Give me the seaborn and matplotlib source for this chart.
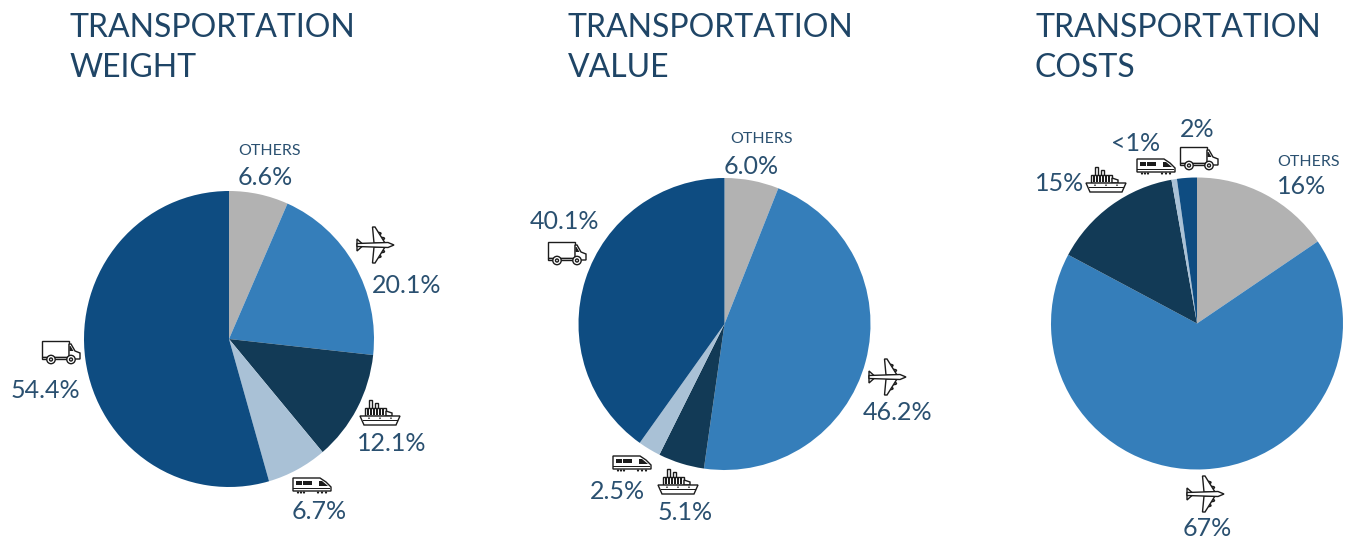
import matplotlib
matplotlib.use("Agg")
import matplotlib.pyplot as plt
import seaborn as sns
from matplotlib.patches import Polygon, Circle, Rectangle, Ellipse
from matplotlib.transforms import Affine2D

sns.set_theme(style="white")
plt.rcParams['font.family'] = ['Lato', 'DejaVu Sans']

titles = ["TRANSPORTATION\nWEIGHT", "TRANSPORTATION\nVALUE", "TRANSPORTATION\nCOSTS"]
modes = ["Others", "Air", "Water", "Rail", "Truck"]
weight_values = [6.6, 20.1, 12.1, 6.7, 54.4]
value_values = [6.0, 46.2, 5.1, 2.5, 40.1]
cost_values = [15.5, 67.3, 14.4, 0.6, 2.2]
weight_labels = ["6.6%", "20.1%", "12.1%", "6.7%", "54.4%"]
value_labels = ["6.0%", "46.2%", "5.1%", "2.5%", "40.1%"]
cost_labels = ["16%", "67%", "15%", "<1%", "2%"]
others_label = "OTHERS"

palette = sns.color_palette(["#B2B2B2", "#357EBA", "#123A56", "#A9C1D6", "#0E4C81"])
TXT = "#2A5070"
INK = "#1c1c1c"
W, H = 1352, 540

fig = plt.figure(figsize=(W / 100, H / 100), dpi=100, facecolor="white")

pies = [(weight_values, 229, 339, 145, 148), (value_values, 724.5, 324, 146, 146), (cost_values, 1197, 323.5, 146, 146)]
for vals, cx, cy, rx, ry in pies:
    ax = fig.add_axes([(cx - rx) / W, 1 - (cy + ry) / H, 2 * rx / W, 2 * ry / H])
    ax.pie(vals, colors=palette, startangle=90, counterclock=False, radius=1,
           wedgeprops=dict(linewidth=0))
    ax.set_aspect("auto")
    ax.set_xlim(-1, 1)
    ax.set_ylim(-1, 1)
    ax.axis("off")

ov = fig.add_axes([0, 0, 1, 1], facecolor="none")
ov.set_xlim(0, W)
ov.set_ylim(H, 0)
ov.axis("off")


def place(x, y):
    return Affine2D().translate(x, y) + ov.transData


def truck(x, y):
    t = place(x, y)
    kw = dict(transform=t, ec=INK, lw=1.0, fc="white")
    ov.add_patch(Rectangle((0, 0), 27, 16, **kw))
    ov.add_patch(Polygon([(27, 3), (29, 3), (33, 10), (38, 12), (38, 18), (27, 18)], **kw))
    ov.add_patch(Polygon([(27.5, 5), (28.5, 5), (31.5, 10), (27.5, 10)], transform=t, fc=INK, ec="none"))
    ov.add_patch(Rectangle((0, 16), 27, 2, **kw))
    for wx in (9, 29):
        ov.add_patch(Circle((wx, 18.5), 4.2, **kw))
        ov.add_patch(Circle((wx, 18.5), 1.5, **kw))


def train(x, y):
    t = place(x, y)
    kw = dict(transform=t, ec=INK, lw=1.0, fc="white")
    ov.add_patch(Polygon([(0, 0), (27, 0), (33, 4), (38, 9), (38, 13), (0, 13)], **kw))
    ov.add_patch(Rectangle((2.5, 3), 6, 4, transform=t, fc=INK, ec="none"))
    ov.add_patch(Rectangle((9.5, 3), 9, 4, transform=t, fc=INK, ec="none"))
    ov.add_patch(Polygon([(26, 3), (29, 3), (35, 8), (26, 8)], transform=t, fc=INK, ec="none"))
    ov.add_patch(Rectangle((0, 9.5), 37, 1, transform=t, fc=INK, ec="none"))
    for wx in (5, 8, 11, 25, 29, 33):
        ov.add_patch(Circle((wx, 14.5), 1.1, transform=t, fc=INK, ec="none"))


def ship(x, y):
    t = place(x, y)
    kw = dict(transform=t, ec=INK, lw=1.0, fc="white")
    ov.add_patch(Rectangle((9, 0), 2.8, 9, **kw))
    ov.add_patch(Rectangle((15, 3), 2.8, 6, **kw))
    ov.add_patch(Rectangle((5, 8), 21, 8, **kw))
    for wx in (7, 10, 13, 16, 19, 22):
        ov.add_patch(Rectangle((wx, 8.5), 1.8, 6, transform=t, fc=INK, ec="none"))
    ov.add_patch(Polygon([(26, 11), (32, 13), (32, 16), (26, 16)], **kw))
    ov.add_patch(Polygon([(0, 16), (40, 16), (36, 25), (4, 25)], **kw))
    ov.add_patch(Rectangle((2.5, 20), 35, 0.9, transform=t, fc=INK, ec="none"))
    for wx in (9, 20, 31):
        ov.add_patch(Circle((wx, 18.2), 0.8, transform=t, fc=INK, ec="none"))


def plane(x, y):
    t = place(x, y)
    kw = dict(transform=t, ec=INK, lw=1.0, fc="white")
    for sgn in (-1, 1):
        ov.add_patch(Polygon([(-14, sgn * 1.5), (-19, sgn * 6), (-19, 0)], **kw))
        ov.add_patch(Ellipse((6, sgn * 6.5), 5, 2.2, **kw))
        ov.add_patch(Ellipse((2.5, sgn * 11.5), 5, 2.2, **kw))
        ov.add_patch(Polygon([(9, sgn * 2), (-1, sgn * 18), (-3.5, sgn * 18), (-2, sgn * 2)], **kw))
    ov.add_patch(Polygon([(-19, -1.5), (12, -2.5), (18, 0), (12, 2.5), (-19, 1.5)], **kw))


for xy, fn in [((42, 341), truck), ((548, 242), truck), ((1180, 147), truck),
               ((360, 400), ship), ((658, 469), ship), ((1086, 167), ship),
               ((293, 478), train), ((613, 456), train), ((1137, 159), train)]:
    fn(*xy)
for xy in [(376, 245), (888, 377), (1206, 494)]:
    plane(*xy)

for tx, title in zip((69, 568, 1035), titles):
    first, second = title.split("\n")
    ov.text(tx, 37, first, color="#1F4566", fontsize=23, ha="left", va="baseline")
    ov.text(tx, 77, second, color="#1F4566", fontsize=23, ha="left", va="baseline")

label_pos = [
    (weight_labels, [(238, 185), (372, 293), (357, 451), (292, 519), (11, 398)]),
    (value_labels, [(724, 174), (863, 420), (658, 520), (590, 499), (530, 229)]),
    (cost_labels, [(1277, 194), (1183, 536), (1035, 191), (1111, 151), (1180, 137)]),
]
for labels, positions in label_pos:
    for lab, (x, y) in zip(labels, positions):
        ov.text(x, y, lab, color=TXT, fontsize=18, ha="left", va="baseline")

for x, y in [(238, 155), (730, 143), (1277, 166)]:
    ov.text(x, y, others_label, color=TXT, fontsize=11.5, ha="left", va="baseline")

fig.savefig("out.png", dpi=100)
